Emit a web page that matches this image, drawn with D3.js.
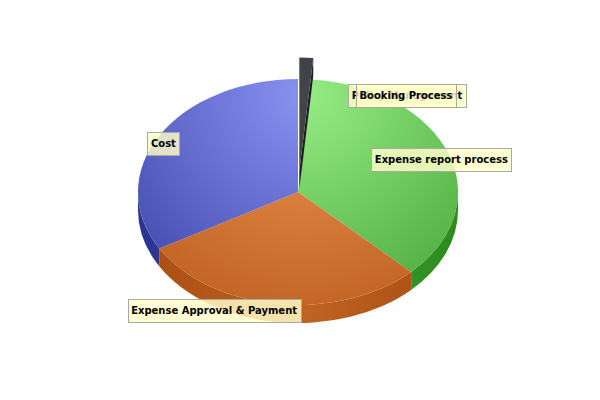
<!DOCTYPE html>
<html><head><meta charset="utf-8">
<script src="https://cdn.jsdelivr.net/npm/d3@7"></script>
<style>body{margin:0;background:#fff}svg{display:block}</style>
</head><body>
<svg id="c" width="600" height="400"></svg>
<script>
const categories = ["Policy Management", "Booking Process", "Expense report process", "Expense Approval & Payment", "Cost"];
const values = [0, 1, 26, 21, 24];
const colorKeys = ["black", "black", "green", "orange", "blue"];

const W = 600, H = 400;
const cx = 298, cy = 192, rx = 160, ry = 113, depth = 18;
const explodeKey = "Booking Process", explodeFrac = 0.19;

const palette = {
  blue:   {light: "#8a92f2", dark: "#3e46aa", wall1: "#2c3490", wall2: "#4048b0"},
  green:  {light: "#96ec84", dark: "#4aa83a", wall1: "#2a8a1c", wall2: "#48a838"},
  orange: {light: "#ec9452", dark: "#bc5e1e", wall1: "#a84c10", wall2: "#c06424"},
  black:  {light: "#44444c", dark: "#2c2c32", wall1: "#1e1e22", wall2: "#2a2a2e"}
};

const svg = d3.select("#c");
svg.append("rect").attr("width", W).attr("height", H).attr("fill", "#fff");
const defs = svg.append("defs");
Object.entries(palette).forEach(([k, p]) => {
  const g = defs.append("radialGradient").attr("id", "top-" + k)
    .attr("gradientUnits", "userSpaceOnUse")
    .attr("cx", 305).attr("cy", 95).attr("r", 250).attr("fx", 305).attr("fy", 95);
  g.append("stop").attr("offset", 0).attr("stop-color", p.light);
  g.append("stop").attr("offset", 1).attr("stop-color", p.dark);
  const w = defs.append("linearGradient").attr("id", "wall-" + k)
    .attr("gradientUnits", "userSpaceOnUse")
    .attr("x1", cx - rx).attr("y1", 0).attr("x2", cx + rx).attr("y2", 0);
  w.append("stop").attr("offset", 0).attr("stop-color", p.wall1);
  w.append("stop").attr("offset", 0.5).attr("stop-color", p.wall2);
  w.append("stop").attr("offset", 1).attr("stop-color", p.wall1);
});

const pie = d3.pie().sort(null).startAngle(0).endAngle(2 * Math.PI);
const arcs = pie(values).map((d, i) => ({...d, name: categories[i], color: colorKeys[i]}));

function pt(a, ox = 0, oy = 0, dy = 0) {
  return [cx + ox + rx * Math.sin(a), cy + oy - ry * Math.cos(a) + dy];
}
function offsetOf(d) {
  if (d.name !== explodeKey) return [0, 0];
  const m = (d.startAngle + d.endAngle) / 2;
  return [rx * explodeFrac * Math.sin(m), -ry * explodeFrac * Math.cos(m)];
}
function topPath(d) {
  const [ox, oy] = offsetOf(d);
  const p0 = pt(d.startAngle, ox, oy), p1 = pt(d.endAngle, ox, oy);
  const large = d.endAngle - d.startAngle > Math.PI ? 1 : 0;
  return `M${cx + ox},${cy + oy}L${p0}A${rx},${ry} 0 ${large} 1 ${p1}Z`;
}
function wallPath(d) {
  const [ox, oy] = offsetOf(d);
  const s = Math.max(d.startAngle, Math.PI / 2), e = Math.min(d.endAngle, 3 * Math.PI / 2);
  if (e <= s) return null;
  const p0 = pt(s, ox, oy), p1 = pt(e, ox, oy), q1 = pt(e, ox, oy, depth), q0 = pt(s, ox, oy, depth);
  return `M${p0}A${rx},${ry} 0 0 1 ${p1}L${q1}A${rx},${ry} 0 0 0 ${q0}Z`;
}
function radialWall(d, a) {
  const [ox, oy] = offsetOf(d);
  const c = [cx + ox, cy + oy], p = pt(a, ox, oy);
  return `M${c}L${p}L${p[0]},${p[1] + depth}L${c[0]},${c[1] + depth}Z`;
}

const drawn = arcs.filter(d => d.value > 0);
const normal = drawn.filter(d => d.name !== explodeKey);
const exploded = drawn.filter(d => d.name === explodeKey);

const g = svg.append("g");
normal.forEach(d => {
  const wp = wallPath(d);
  if (wp) g.append("path").attr("d", wp).attr("fill", `url(#wall-${d.color})`);
});
normal.forEach(d => {
  g.append("path").attr("d", topPath(d)).attr("fill", `url(#top-${d.color})`);
});
exploded.forEach(d => {
  g.append("path").attr("d", radialWall(d, d.endAngle)).attr("fill", palette[d.color].wall1);
  g.append("path").attr("d", radialWall(d, d.startAngle)).attr("fill", palette[d.color].wall1);
  g.append("path").attr("d", topPath(d)).attr("fill", `url(#top-${d.color})`);
});

// labels: anchored at the slice's mid-angle on the rim, nudged like the original layout
const labelNudge = {
  "Policy Management": [109, 16.5],
  "Booking Process": [101, 16.5],
  "Expense report process": [-7, 6],
  "Expense Approval & Payment": [-63, 6],
  "Cost": [4, 8]
};
const lg = svg.append("g").style("font-family", "'DejaVu Sans', sans-serif")
  .style("font-weight", "bold").style("font-size", "10px");
arcs.forEach(d => {
  const m = (d.startAngle + d.endAngle) / 2;
  const a = pt(m);
  const n = labelNudge[d.name] || [0, 0];
  const x = a[0] + n[0], y = a[1] + n[1];
  const grp = lg.append("g");
  const box = grp.append("rect");
  const t = grp.append("text").attr("x", x).attr("y", y).attr("text-anchor", "middle")
    .attr("dominant-baseline", "central").attr("fill", "#000").text(d.name);
  const w = t.node().getComputedTextLength();
  box.attr("x", Math.round(x - w / 2 - 3.5) + 0.5).attr("y", Math.round(y - 11.5) + 0.5)
    .attr("width", Math.round(w + 7)).attr("height", 23)
    .attr("fill", "#ffffc8").attr("fill-opacity", 0.82)
    .attr("stroke", "#a8a8a8").attr("stroke-width", 1);
});
</script>
</body></html>
